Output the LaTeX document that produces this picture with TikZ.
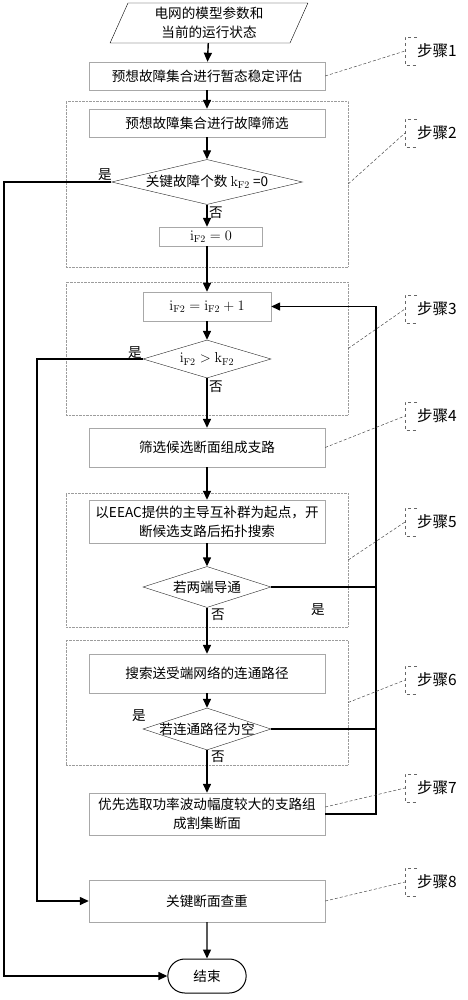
\documentclass[tikz,border=0pt]{standalone}
\usepackage[no-math]{fontspec}
\setmainfont{Noto Sans CJK SC}
\usepackage{tikz}
\usetikzlibrary{arrows.meta, positioning, calc, shapes.geometric, shapes.misc}
\definecolor{boxgray}{HTML}{A8A8A8}
\definecolor{grpgray}{HTML}{9C9C9C}
\newcommand{\chartfont}{\fontsize{13.6}{19}\selectfont}
\newcommand{\steplfont}{\fontsize{15.5}{18}\selectfont}

\begin{document}
\begin{tikzpicture}[x=1pt, y=-1pt,
  box/.style={draw=boxgray, fill=white, rectangle, minimum width=236pt,
              minimum height=#1, align=center, font=\chartfont, inner sep=2pt},
  box/.default=28pt,
  grp/.style={draw=grpgray, densely dotted, rectangle, minimum width=282pt,
              minimum height=#1, inner sep=0pt},
  dia/.style={draw=black!85, diamond, minimum width=128pt, minimum height=#1,
              inner sep=0pt, font=\chartfont},
  dia/.default=40pt,
  io/.style={draw, trapezium, trapezium left angle=70, trapezium right angle=110,
             trapezium stretches=true, minimum width=198pt, minimum height=40pt,
             align=center, font=\chartfont, inner sep=1pt},
  term/.style={draw, rounded rectangle, line width=1pt, minimum width=85pt,
               minimum height=34pt, font=\chartfont},
  flow/.style={line width=1.4pt, -{Triangle[length=9pt,width=8pt]}},
  wire/.style={line width=1.4pt},
  lead/.style={densely dashed, draw=black!70, line width=0.5pt},
  brk/.style={dashed, draw=black!60, line width=0.5pt},
  stepbox/.style={anchor=west, inner xsep=12pt, inner ysep=0pt,
                  minimum height=28pt, font=\steplfont},
  yn/.style={font=\chartfont, inner sep=0pt},
]
\useasboundingbox (0,0) rectangle (467,1000);

%% Step groups (dotted frames)
\node[grp=166pt] (g2) at (207,184) {};
\node[grp=133pt] (g3) at (207,348.5) {};
\node[grp=134pt] (g5) at (207,560) {};
\node[grp=125pt] (g6) at (207,702.5) {};

%% Main column
\node[io] (in) at (209,23) {电网的模型参数和\\当前的运行状态};
\node[box] (b1) at (207,76) {预想故障集合进行暂态稳定评估};
\node[box] (b2) at (207,123) {预想故障集合进行故障筛选};
\node[dia=45pt, minimum width=191pt] (d1) at (207,182)
  {\makebox[0pt]{关键故障个数 $\mathrm{k}_{\mathrm{F2}}$ =0}};
\node[box=19pt, minimum width=103pt, inner sep=0pt] (z0) at (211,236.5)
  {$\mathrm{i}_{\mathrm{F2}}=0$};
\node[box=29pt, minimum width=128pt] (inc) at (207,306.5)
  {$\mathrm{i}_{\mathrm{F2}}=\mathrm{i}_{\mathrm{F2}}+1$};
\node[dia=38pt] (d2) at (207,359)
  {\makebox[0pt]{$\mathrm{i}_{\mathrm{F2}}>\mathrm{k}_{\mathrm{F2}}$}};
\node[box=39pt] (b4) at (207,447.5) {筛选候选断面组成支路};
\node[box=43pt] (b5) at (207,521.5)
  {以EEAC提供的主导互补群为起点，开\\断候选支路后拓扑搜索};
\node[dia=41pt] (d3) at (207,587) {\makebox[0pt]{若两端导通}};
\node[box=39pt] (b6) at (207,673.5) {搜索送受端网络的连通路径};
\node[dia=42pt] (d4) at (207,729) {\makebox[0pt]{若连通路径为空}};
\node[box=42pt] (b7) at (207,814)
  {优先选取功率波动幅度较大的支路组\\成割集断面};
\node[box=42pt] (b8) at (207,901) {关键断面查重};
\node[term] (end) at (207,976) {结束};

%% Yes / no labels
\node[yn] (y1) at (105,175) {是};
\node[yn] (n1) at (216,213) {否};
\node[yn] (y2) at (135,353) {是};
\node[yn] (n2) at (216,387) {否};
\node[yn] (y3) at (318,610) {是};
\node[yn] (n3) at (218,615) {否};
\node[yn] (y4) at (139,716) {是};
\node[yn] (n4) at (218,757) {否};

%% Rails for the side connectors
\coordinate (railL) at (4,0);
\coordinate (railM) at (37,0);
\coordinate (railR) at (376,0);

%% Flow down the column
\draw[flow] (in) -- (b1);
\draw[flow] (b1) -- (b2);
\draw[flow] (b2) -- (d1);
\draw[flow] (d1) -- (d1.south |- z0.north);
\draw[flow] (d1.south |- z0.south) -- (inc);
\draw[flow] (inc) -- (d2);
\draw[flow] (d2) -- (b4);
\draw[flow] (b4) -- (b5);
\draw[flow] (b5) -- (d3);
\draw[flow] (d3) -- (b6);
\draw[flow] (b6) -- (d4);
\draw[flow] (d4) -- (b7);
\draw[flow] (b8) -- (end);

%% Side branches
\draw[flow] (d1.west) -- (d1.west -| railL) |- (end.west);
\draw[flow] (d2.west) -- (d2.west -| railM) |- (b8.west);
\draw[flow] (b7.east) -- (b7.east -| railR) |- (inc.east);
\draw[wire] (d3.east) -- (d3.east -| railR);
\draw[wire] (d4.east) -- (d4.east -| railR);

%% Step labels with dashed brackets
\foreach \n/\y in {1/51, 2/133, 3/309, 4/416, 5/522, 6/680, 7/788, 8/882} {
  \node[stepbox] (s\n) at (405,\y) {步骤\n};
  \draw[brk] ([xshift=12pt]s\n.north west) -- (s\n.north west)
    -- (s\n.south west) -- ([xshift=12pt]s\n.south west);
}
\foreach \src/\n in {b1/1, g2/2, g3/3, b4/4, g5/5, g6/6, b8/8}
  \draw[lead] (\src.east) -- (s\n.west);
\draw[lead] ([yshift=7pt]b7.east) -- (s7.west);
\end{tikzpicture}
\end{document}
